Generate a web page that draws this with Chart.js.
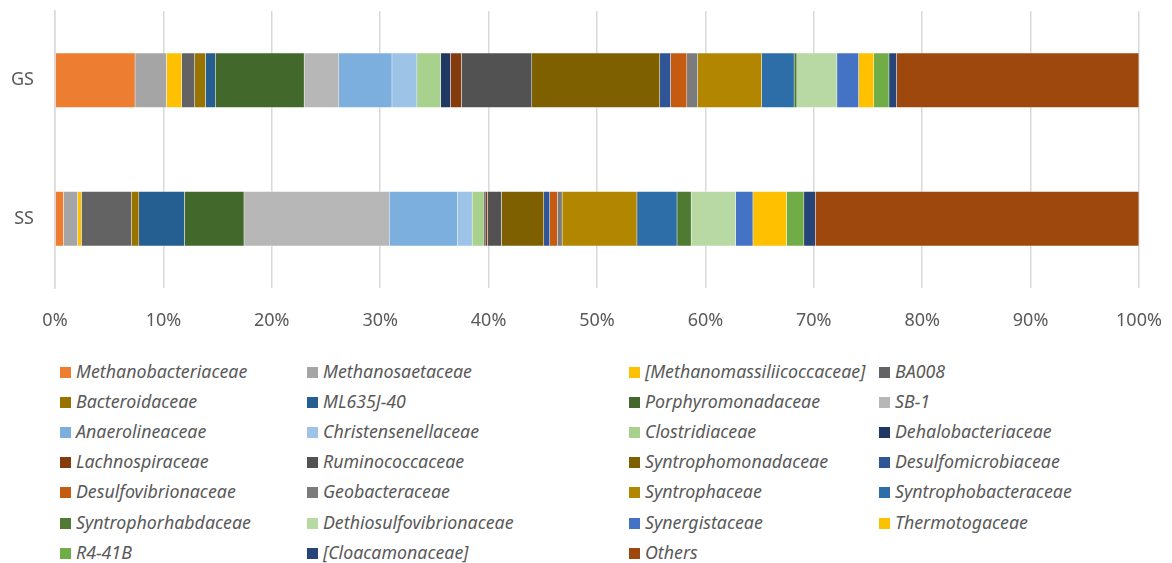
<!DOCTYPE html>
<html>
<head>
<meta charset="utf-8">
<script src="https://cdn.jsdelivr.net/npm/chart.js@4"></script>
<style>
  html, body { margin: 0; padding: 0; background: #fff; overflow: hidden; font-family: "Noto Sans", sans-serif; }
  #wrap { position: absolute; left: 0; top: 0; width: 1172px; height: 345px; }
  #legend { position: absolute; top: 357px; left: 60px; width: 1100px; height: 200px; }
  .item { position: absolute; height: 28px; line-height: 28px; font-style: italic; font-size: 17.8px; color: #595959; white-space: nowrap; }
  .item span.box { display: inline-block; width: 11px; height: 11px; margin-right: 5px; }
</style>
</head>
<body>
<div id="wrap"><canvas id="myChart" width="1172" height="345"></canvas></div>
<div id="legend"></div>
<script>
// categories and series
var categories = ["GS", "SS"];
var families = ["Methanobacteriaceae", "Methanosaetaceae", "[Methanomassiliicoccaceae]", "BA008",
    "Bacteroidaceae", "ML635J-40", "Porphyromonadaceae", "SB-1",
    "Anaerolineaceae", "Christensenellaceae", "Clostridiaceae", "Dehalobacteriaceae",
    "Lachnospiraceae", "Ruminococcaceae", "Syntrophomonadaceae", "Desulfomicrobiaceae",
    "Desulfovibrionaceae", "Geobacteraceae", "Syntrophaceae", "Syntrophobacteraceae",
    "Syntrophorhabdaceae", "Dethiosulfovibrionaceae", "Synergistaceae", "Thermotogaceae",
    "R4-41B", "[Cloacamonaceae]", "Others"];
var gsValues = [7.4, 2.9, 1.4, 1.2, 1.0, 0.9, 8.2, 3.2, 4.9, 2.3, 2.2, 0.9, 1.0, 6.5, 11.8, 1.0,
    1.5, 1.0, 5.9, 3.0, 0.25, 3.7, 2.0, 1.4, 1.4, 0.7, 22.35];
var ssValues = [0.8, 1.3, 0.35, 4.6, 0.7, 4.2, 5.5, 13.4, 6.3, 1.35, 1.1, 0.1, 0.2, 1.3, 3.9, 0.55,
    0.7, 0.45, 6.9, 3.7, 1.3, 4.1, 1.6, 3.1, 1.6, 1.05, 29.85];
var tickLabels = ["0%", "10%", "20%", "30%", "40%", "50%", "60%", "70%", "80%", "90%", "100%"];
var colors = ['#ED7D31', '#A5A5A5', '#FFC000', '#636363',
    '#997300', '#255E91', '#43682B', '#B7B7B7',
    '#7CAFDD', '#9DC3E6', '#A9D18E', '#203864',
    '#843C0C', '#525252', '#7F6000', '#2F5597',
    '#C55A11', '#7B7B7B', '#B38600', '#2E6EA8',
    '#4F7A32', '#B8D8A4', '#4472C4', '#FFC000',
    '#70AD47', '#264478', '#9E480E'];

var datasets = families.map(function(name, i) {
    return {
        label: name,
        data: [gsValues[i], ssValues[i]],
        backgroundColor: colors[i],
        borderColor: 'rgba(255,255,255,0.35)',
        borderWidth: 0.75,
        barThickness: 55
    };
});

function noPad(scale) {
    scale.paddingLeft = 0;
    scale.paddingRight = 0;
    scale.paddingTop = 0;
    scale.paddingBottom = 0;
}

var ctx = document.getElementById("myChart");
var myChart = new Chart(ctx, {
    type: 'bar',
    data: { labels: categories, datasets: datasets },
    options: {
        indexAxis: 'y',
        responsive: false,
        animation: false,
        layout: { padding: { top: 11, right: 33, left: 0, bottom: 0 } },
        plugins: { legend: { display: false }, tooltip: { enabled: false } },
        scales: {
            x: {
                stacked: true,
                min: 0,
                max: 100,
                grid: { color: '#D9D9D9', lineWidth: 1.5, drawTicks: false },
                border: { display: false },
                ticks: {
                    stepSize: 10,
                    padding: 22,
                    color: '#595959',
                    font: { family: 'Noto Sans', size: 18 },
                    callback: function(v, i) { return tickLabels[i]; }
                },
                afterFit: function(scale) { scale.height = 57; noPad(scale); }
            },
            y: {
                stacked: true,
                grid: { display: false, drawTicks: false },
                border: { display: true, color: '#D9D9D9', width: 1.5 },
                ticks: {
                    padding: 21,
                    color: '#595959',
                    font: { family: 'Noto Sans', size: 18 }
                },
                afterFit: function(scale) { scale.width = 55; noPad(scale); }
            }
        }
    }
});

// legend in 4 columns
var colX = [0, 247, 569, 819];
var legend = document.getElementById("legend");
families.forEach(function(name, i) {
    var d = document.createElement("div");
    d.className = "item";
    d.style.left = colX[i % 4] + "px";
    d.style.top = (Math.floor(i / 4) * 30.1) + "px";
    d.innerHTML = '<span class="box" style="background:' + colors[i] + '"></span>' + name;
    legend.appendChild(d);
});
</script>
</body>
</html>
